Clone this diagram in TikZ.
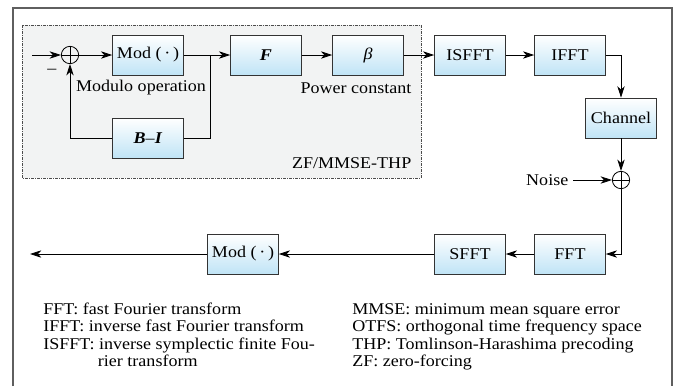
\documentclass[tikz,border=0pt]{standalone}
\usepackage{fontspec}
\setmainfont{Liberation Serif}[FakeStretch=1.1]
\usetikzlibrary{arrows.meta,calc}
\definecolor{boxblue}{RGB}{192,228,246}
\definecolor{thpgray}{RGB}{242,243,243}
\definecolor{framegray}{RGB}{95,95,95}

\begin{document}
\begin{tikzpicture}[x=0.75pt,y=-0.75pt,
    font=\fontsize{12.3}{13.1}\selectfont,
    blk/.style={draw=black!80,line width=0.6pt,top color=white,bottom color=boxblue,
      text=black,minimum width=53pt,minimum height=30pt,inner sep=0pt},
    sum/.style={circle,draw,line width=0.6pt,minimum size=13pt,inner sep=0pt,
      path picture={\draw[line width=0.6pt]
        (path picture bounding box.north) -- (path picture bounding box.south)
        (path picture bounding box.west) -- (path picture bounding box.east);}},
    flow/.style={-{Stealth[length=8.5pt,width=5.5pt,inset=2.5pt]},line width=0.6pt},
    wire/.style={line width=0.6pt}]
  \useasboundingbox (0,0) rectangle (692,386);

  % frame and THP region
  \draw[framegray,line width=1.1pt] (13,386) -- (13,8) -- (672,8) -- (672,386);
  \draw[black!70,line width=0.5pt,fill=thpgray,
    dash pattern=on 2pt off 1pt on 0.5pt off 1pt] (22,25) rectangle (421,178);

  % blocks
  \node[sum] (s1) at (70,55) {};
  \node[blk] (mod) at (148,55) {Mod (\,·\,)};
  \node[blk] (F) at (266,55) {\textbf{\textit{F}}};
  \node[blk] (beta) at (368,55) {\textit{β}};
  \node[blk] (isfft) at (470,55) {ISFFT};
  \node[blk] (ifft) at (570,55) {IFFT};
  \node[blk] (chan) at (621,118) {Channel};
  \node[sum] (s2) at (621,180) {};
  \node[blk] (fft) at (570,254) {FFT};
  \node[blk] (sfft) at (470,254) {SFFT};
  \node[blk] (mod2) at (243,254) {Mod (\,·\,)};
  \node[blk] (bi) at (148,138) {\textbf{\textit{B}}–\textbf{\textit{I}}};

  \coordinate (in) at (32,55);
  \coordinate (out) at (30,254);
  \coordinate (jn) at (210,55);

  % labels
  \node (minus) at (52,71) {–};
  \node (modlbl) at (141,88) {Modulo operation};
  \node (pwrlbl) at (356,88) {Power constant};
  \node[anchor=east] (thplbl) at (416,163) {ZF/MMSE-THP};
  \node[anchor=east] (noise) at (573,180) {Noise};

  % connectors
  \draw[flow] (in) -- (s1);
  \draw[flow] (s1) -- (mod);
  \draw[flow] (mod) -- (F);
  \draw[flow] (F) -- (beta);
  \draw[flow] (beta) -- (isfft);
  \draw[flow] (isfft) -- (ifft);
  \draw[flow] (ifft) -| (chan);
  \draw[flow] (chan) -- (s2);
  \draw[flow] (noise) -- (s2);
  \draw[flow] (s2) |- (fft);
  \draw[flow] (fft) -- (sfft);
  \draw[flow] (sfft) -- (mod2);
  \draw[flow] (mod2) -- (out);
  \draw[wire] (jn) |- (bi);
  \draw[flow] (bi) -| (s1);

  % legend
  \foreach \txt [count=\i] in {FFT: fast Fourier transform,
      IFFT: inverse fast Fourier transform,
      ISFFT: inverse symplectic finite Fou-,
      \hspace*{41pt}rier transform}
    \node[anchor=base west,inner sep=0pt] (legl\i) at (43,{314+17.5*(\i-1)}) {\txt};
  \foreach \txt [count=\i] in {MMSE: minimum mean square error,
      OTFS: orthogonal time frequency space,
      THP: Tomlinson-Harashima precoding,
      ZF: zero-forcing}
    \node[anchor=base west,inner sep=0pt] (legr\i) at (352,{314+17.5*(\i-1)}) {\txt};
\end{tikzpicture}
\end{document}
